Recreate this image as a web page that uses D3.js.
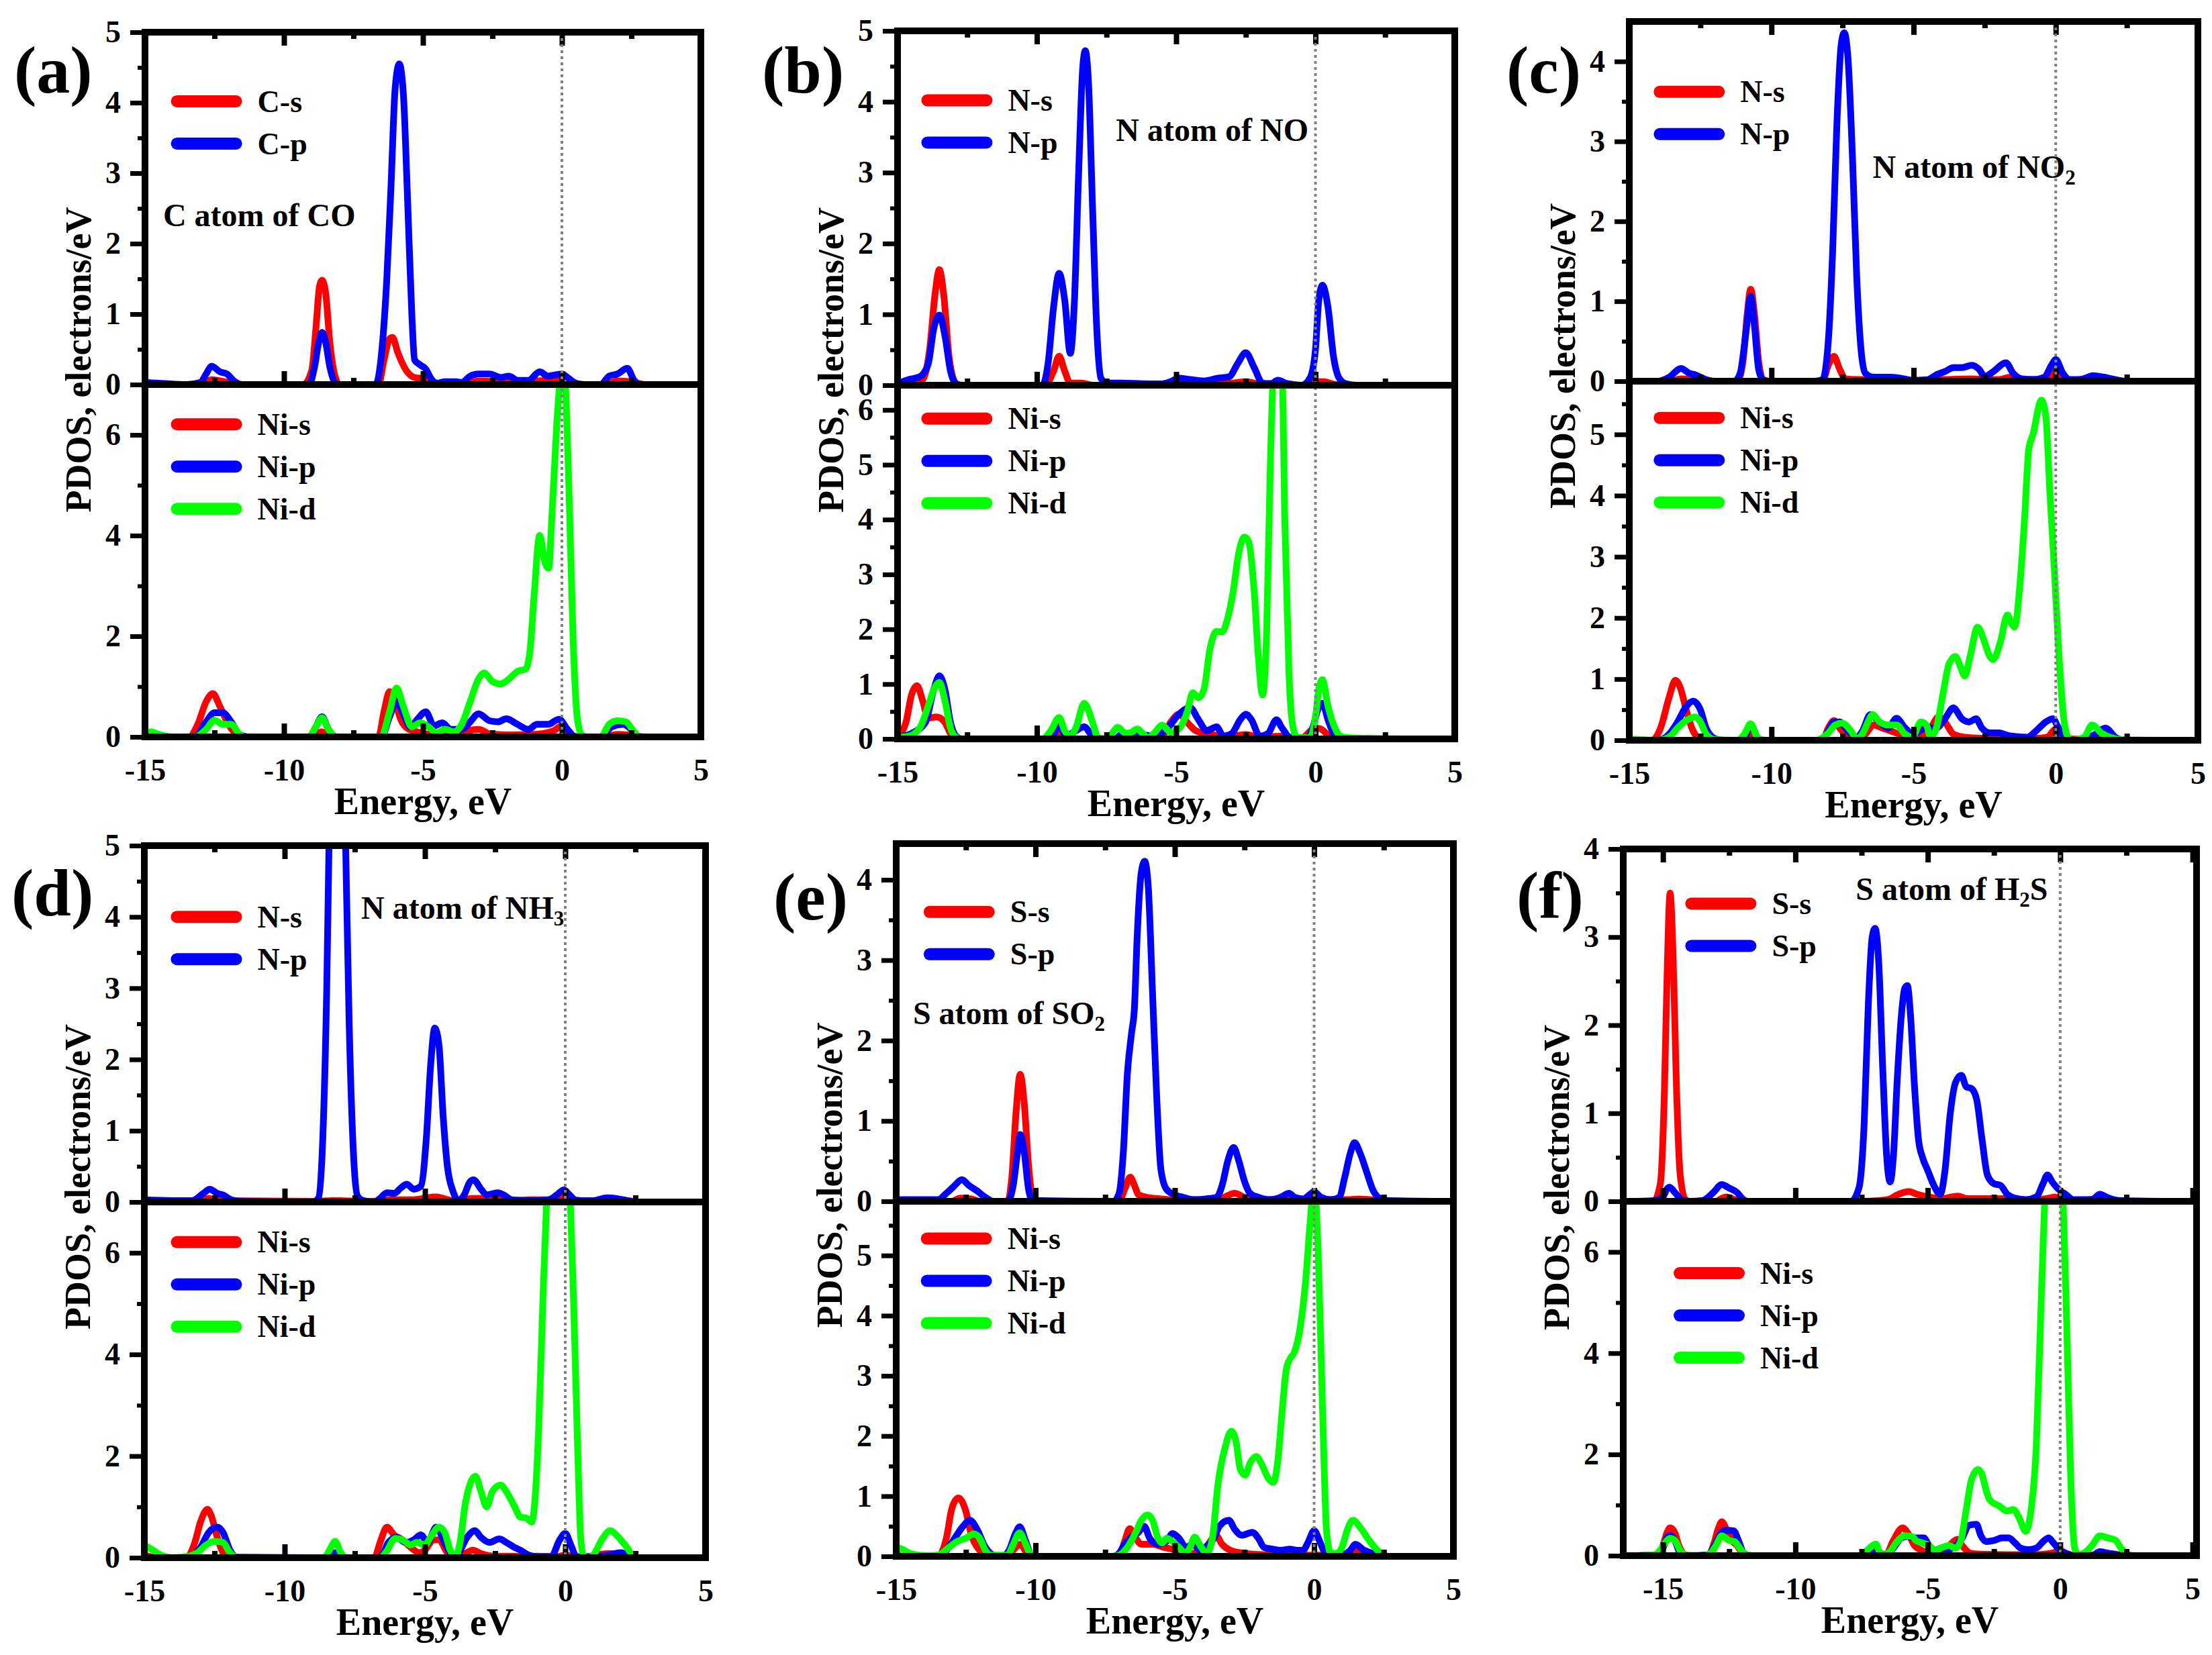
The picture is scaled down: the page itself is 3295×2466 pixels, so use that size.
<!DOCTYPE html>
<meta charset="utf-8">
<body style="margin:0;background:#fff">

<!-- Load d3.js -->
<script src="https://d3js.org/d3.v7.min.js"></script>

<div id="my_dataviz"></div>

<script>
// ---- tick values ----
var xTicks = [-15, -10, -5, 0, 5];
var ticks0to5 = [0, 1, 2, 3, 4, 5];
var ticks0to4 = [0, 1, 2, 3, 4];
var ticks0to6 = [0, 1, 2, 3, 4, 5, 6];
var ticksEven = [0, 2, 4, 6];

// ---- legend names ----
var namesC = ["C-s", "C-p"];
var namesN = ["N-s", "N-p"];
var namesS = ["S-s", "S-p"];
var namesNi = ["Ni-s", "Ni-p", "Ni-d"];

// ---- PDOS curves, [energy eV, electrons/eV] ----
// (a) CO
var aUpS = [[-15,0],[-13,0],[-12.6,0.07],[-12,0.03],[-11.5,0],[-9.3,0],[-9.0,0.2],[-8.85,0.8],[-8.72,1.4],[-8.63,1.48],[-8.5,1.3],[-8.35,0.6],[-8.15,0.1],[-8.0,0],[-6.6,0],[-6.4,0.35],[-6.2,0.65],[-6.1,0.67],[-5.9,0.45],[-5.6,0.2],[-5.3,0.1],[-4.9,0.08],[-4.5,0.02],[-4.2,0],[-3.5,0.02],[-3,0.05],[-2,0.04],[-1,0.05],[-0.2,0.08],[0.1,0.12],[0.4,0.03],[0.8,0],[1.5,0],[2,0.05],[2.5,0.04],[3,0],[4.5,0]];
var aUpP = [[-15,0.03],[-14.5,0.02],[-13.5,0],[-13,0.03],[-12.8,0.15],[-12.6,0.26],[-12.3,0.18],[-12.05,0.15],[-11.8,0.05],[-11.5,0],[-9.1,0],[-8.9,0.25],[-8.75,0.6],[-8.63,0.74],[-8.5,0.6],[-8.35,0.25],[-8.15,0.02],[-8,0],[-6.7,0],[-6.5,0.4],[-6.3,1.5],[-6.15,2.8],[-6.0,4.2],[-5.85,4.55],[-5.7,4.1],[-5.55,2.6],[-5.4,1.0],[-5.3,0.35],[-5.1,0.28],[-4.9,0.22],[-4.7,0.08],[-4.5,0.02],[-4.2,0.04],[-3.8,0.04],[-3.6,0.03],[-3.3,0.12],[-3.0,0.15],[-2.6,0.15],[-2.2,0.1],[-1.9,0.12],[-1.6,0.06],[-1.2,0.06],[-0.8,0.18],[-0.5,0.12],[-0.2,0.14],[0,0.15],[0.2,0.1],[0.5,0.02],[0.8,0],[1.4,0],[1.7,0.12],[2.0,0.15],[2.35,0.23],[2.6,0.06],[2.8,0],[4.5,0]];
var aLoS = [[-15,0.03],[-14.5,0],[-13.4,0],[-13.1,0.25],[-12.8,0.7],[-12.56,0.86],[-12.3,0.6],[-12,0.25],[-11.7,0.05],[-11.5,0],[-9,0],[-8.65,0.1],[-8.3,0],[-6.6,0],[-6.4,0.5],[-6.2,0.9],[-6.0,0.7],[-5.8,0.35],[-5.5,0.15],[-5.2,0.1],[-4.8,0.05],[-4.4,0.03],[-4,0.02],[-3.4,0.12],[-3.0,0.15],[-2.6,0.06],[-2,0.04],[-1,0.05],[-0.3,0.12],[0,0.22],[0.3,0.05],[0.6,0],[1.5,0],[2,0.05],[2.5,0.03],[3,0],[4.5,0]];
var aLoP = [[-15,0],[-13.2,0],[-12.8,0.3],[-12.5,0.48],[-12.2,0.48],[-11.9,0.3],[-11.6,0.05],[-11.3,0],[-9.1,0],[-8.85,0.2],[-8.63,0.4],[-8.4,0.15],[-8.1,0],[-6.5,0],[-6.2,0.4],[-5.95,0.7],[-5.7,0.45],[-5.45,0.2],[-5.2,0.35],[-4.9,0.5],[-4.6,0.22],[-4.3,0.28],[-4.0,0.15],[-3.6,0.15],[-3.3,0.3],[-3.0,0.46],[-2.6,0.32],[-2.3,0.3],[-2.0,0.36],[-1.6,0.25],[-1.2,0.15],[-0.9,0.25],[-0.5,0.25],[-0.1,0.35],[0.2,0.15],[0.5,0],[1.4,0],[1.8,0.2],[2.2,0.25],[2.5,0.15],[2.8,0],[4.5,0]];
var aLoD = [[-15,0.05],[-14.8,0.1],[-14.5,0.05],[-14,0],[-13.2,0],[-12.8,0.15],[-12.5,0.33],[-12.2,0.25],[-11.9,0.25],[-11.6,0.05],[-11.4,0],[-9.1,0],[-8.85,0.2],[-8.63,0.38],[-8.4,0.15],[-8.1,0],[-6.5,0],[-6.2,0.5],[-5.95,0.97],[-5.7,0.6],[-5.4,0.2],[-5.1,0.28],[-4.8,0.2],[-4.5,0.08],[-4.2,0.15],[-3.9,0.1],[-3.6,0.25],[-3.3,0.7],[-3.0,1.15],[-2.8,1.27],[-2.5,1.1],[-2.2,1.05],[-1.9,1.15],[-1.6,1.3],[-1.3,1.35],[-1.15,1.7],[-1.0,2.8],[-0.8,4.0],[-0.6,3.45],[-0.48,3.35],[-0.35,4.5],[-0.15,6.5],[0.05,7.6],[0.25,5.0],[0.4,2.0],[0.55,0.4],[0.7,0.05],[0.9,0],[1.4,0],[1.7,0.25],[2.0,0.32],[2.3,0.3],[2.6,0.1],[2.8,0],[4.5,0]];

// (b) NO
var bUpS = [[-15,0],[-14.4,0.05],[-14.1,0.08],[-13.85,0.5],[-13.65,1.3],[-13.5,1.63],[-13.35,1.3],[-13.15,0.4],[-12.95,0.05],[-12.8,0],[-9.7,0],[-9.4,0.2],[-9.2,0.41],[-9.0,0.2],[-8.8,0.03],[-8.4,0.03],[-8,0],[-5.3,0],[-5,0.05],[-4.5,0.02],[-3,0.03],[-2.5,0.05],[-2,0.02],[-1.2,0.03],[-0.5,0],[0,0.05],[0.3,0.05],[0.6,0.02],[1,0],[3.1,0]];
var bUpP = [[-15,0.02],[-14.6,0.08],[-14.2,0.12],[-13.9,0.3],[-13.7,0.8],[-13.5,0.99],[-13.3,0.7],[-13.1,0.2],[-12.9,0.02],[-12.6,0],[-9.8,0],[-9.6,0.3],[-9.4,1.1],[-9.2,1.58],[-9.0,1.2],[-8.8,0.45],[-8.65,1.2],[-8.5,3.0],[-8.35,4.5],[-8.26,4.72],[-8.15,4.3],[-8.0,2.5],[-7.85,0.8],[-7.7,0.1],[-7.5,0.03],[-7,0.03],[-6,0.02],[-5.5,0.02],[-5.2,0.05],[-4.9,0.1],[-4.5,0.08],[-4.0,0.06],[-3.5,0.1],[-3.1,0.12],[-2.8,0.3],[-2.5,0.46],[-2.2,0.25],[-1.9,0.03],[-1.6,0.02],[-1.35,0.07],[-1.0,0.02],[-0.5,0],[-0.2,0.1],[0,0.5],[0.12,1.2],[0.25,1.41],[0.45,1.1],[0.65,0.4],[0.85,0.1],[1.1,0.02],[1.5,0],[3.1,0]];
var bLoS = [[-15,0.05],[-14.7,0.3],[-14.5,0.8],[-14.3,0.97],[-14.1,0.7],[-13.9,0.38],[-13.6,0.4],[-13.3,0.3],[-13.1,0.1],[-12.9,0],[-9.5,0],[-9.2,0.12],[-8.9,0],[-5.8,0],[-5.5,0.05],[-5.2,0.3],[-4.9,0.45],[-4.6,0.3],[-4.3,0.15],[-3.8,0.08],[-3,0.05],[-2.5,0.08],[-2,0.03],[-1.3,0.05],[-0.5,0.02],[0,0.2],[0.2,0.18],[0.5,0.05],[0.8,0],[3.1,0]];
var bLoP = [[-15,0.03],[-14.5,0.1],[-14.0,0.3],[-13.7,0.9],[-13.5,1.15],[-13.3,0.9],[-13.1,0.3],[-12.9,0.05],[-12.7,0],[-9.5,0],[-9.2,0.25],[-8.95,0.05],[-8.6,0.15],[-8.3,0.22],[-8.0,0.05],[-7.7,0],[-7.2,0],[-6.9,0.1],[-6.5,0.1],[-5.8,0.05],[-5.3,0.2],[-4.9,0.45],[-4.5,0.57],[-4.2,0.35],[-3.9,0.15],[-3.55,0.22],[-3.3,0.05],[-3.0,0.1],[-2.7,0.35],[-2.5,0.45],[-2.3,0.35],[-2.0,0.05],[-1.7,0.1],[-1.4,0.35],[-1.2,0.2],[-0.9,0.02],[-0.3,0],[-0.1,0.2],[0.1,0.55],[0.25,0.65],[0.45,0.35],[0.65,0.1],[0.9,0],[3.1,0]];
var bLoD = [[-15,0.03],[-14.6,0.05],[-14.2,0.2],[-13.9,0.6],[-13.65,0.95],[-13.5,1.03],[-13.3,0.7],[-13.1,0.2],[-12.9,0.03],[-12.7,0],[-9.8,0],[-9.5,0.15],[-9.2,0.39],[-9.0,0.15],[-8.8,0.05],[-8.6,0.2],[-8.3,0.65],[-8.0,0.3],[-7.8,0.02],[-7.5,0],[-7.3,0.1],[-7.1,0.21],[-6.8,0.1],[-6.6,0.12],[-6.4,0.18],[-6.2,0.1],[-6.0,0.02],[-5.8,0.1],[-5.5,0.25],[-5.2,0.12],[-5.0,0.15],[-4.8,0.25],[-4.6,0.5],[-4.4,0.84],[-4.2,0.75],[-4.0,0.9],[-3.8,1.6],[-3.55,1.96],[-3.35,1.95],[-3.15,2.2],[-2.95,2.7],[-2.75,3.4],[-2.55,3.68],[-2.4,3.6],[-2.2,2.7],[-2.05,1.5],[-1.9,0.8],[-1.75,2.0],[-1.62,5.0],[-1.5,6.8],[-1.35,7.2],[-1.2,6.8],[-1.1,4.0],[-0.95,1.2],[-0.8,0.2],[-0.65,0.02],[-0.2,0.02],[0,0.4],[0.12,0.9],[0.25,1.08],[0.45,0.6],[0.7,0.2],[0.9,0.05],[1.2,0.02],[3.1,0]];

// (c) NO2
var cUpS = [[-15,0],[-13.5,0],[-13.2,0.03],[-12.8,0.02],[-12.5,0],[-11.2,0],[-11.0,0.25],[-10.85,0.85],[-10.73,1.15],[-10.6,0.85],[-10.45,0.25],[-10.3,0.02],[-10.1,0],[-8.2,0],[-8.0,0.2],[-7.8,0.31],[-7.6,0.15],[-7.4,0.03],[-7,0.02],[-6.5,0.02],[-6,0],[-4,0.02],[-3,0.03],[-2,0.02],[-1.6,0.05],[-1.2,0.02],[-0.3,0.02],[0,0.12],[0.2,0.05],[0.5,0],[1.3,0.05],[1.8,0.02],[2.2,0],[3.8,0]];
var cUpP = [[-15,0],[-14,0],[-13.6,0.05],[-13.18,0.16],[-12.9,0.1],[-12.68,0.08],[-12.3,0.02],[-12,0],[-11.3,0],[-11.1,0.1],[-10.9,0.6],[-10.73,1.06],[-10.6,0.7],[-10.45,0.15],[-10.3,0.02],[-10.1,0],[-8.5,0],[-8.2,0.02],[-8.0,0.5],[-7.85,1.6],[-7.7,3.2],[-7.55,4.2],[-7.44,4.36],[-7.3,4.0],[-7.15,2.8],[-7.0,1.3],[-6.85,0.4],[-6.7,0.1],[-6.4,0.05],[-5.8,0.05],[-5.5,0.04],[-5.0,0.01],[-4.5,0.02],[-4.2,0.08],[-3.9,0.12],[-3.6,0.17],[-3.3,0.17],[-2.95,0.2],[-2.7,0.15],[-2.5,0.06],[-2.2,0.12],[-1.75,0.23],[-1.5,0.1],[-1.2,0.03],[-0.8,0.02],[-0.4,0.05],[-0.15,0.2],[0,0.27],[0.25,0.1],[0.5,0.02],[0.9,0.02],[1.3,0.07],[1.7,0.05],[2.1,0.02],[2.5,0],[3.8,0]];
var cLoS = [[-15,0],[-14.2,0],[-13.9,0.2],[-13.6,0.7],[-13.38,0.98],[-13.2,0.85],[-13.0,0.5],[-12.8,0.2],[-12.6,0.05],[-12.3,0],[-11,0],[-10.73,0.1],[-10.45,0],[-8.2,0],[-8.0,0.2],[-7.8,0.32],[-7.6,0.2],[-7.3,0.05],[-7,0.02],[-6.7,0.1],[-6.4,0.25],[-6.1,0.2],[-5.8,0.15],[-5.5,0.1],[-5.2,0.05],[-4.8,0.05],[-4.4,0.2],[-4.12,0.38],[-3.9,0.3],[-3.6,0.1],[-3.2,0.05],[-2.5,0.03],[-1.8,0.05],[-1.2,0.05],[-0.7,0.03],[-0.3,0.05],[0,0.18],[0.3,0.05],[0.6,0.02],[1.0,0.02],[1.5,0.08],[2.0,0.03],[2.5,0],[3.8,0]];
var cLoP = [[-15,0],[-14,0],[-13.6,0.1],[-13.3,0.3],[-13.0,0.55],[-12.76,0.64],[-12.5,0.5],[-12.3,0.2],[-12.0,0.03],[-11.7,0],[-11,0],[-10.73,0.25],[-10.45,0.02],[-10.2,0],[-8.3,0],[-8.0,0.15],[-7.8,0.3],[-7.6,0.3],[-7.3,0.15],[-7.0,0.05],[-6.8,0.15],[-6.52,0.42],[-6.2,0.3],[-5.9,0.2],[-5.6,0.36],[-5.3,0.2],[-5.0,0.1],[-4.8,0.15],[-4.6,0.2],[-4.2,0.2],[-3.9,0.35],[-3.6,0.53],[-3.3,0.35],[-3.05,0.3],[-2.8,0.35],[-2.6,0.2],[-2.3,0.12],[-2.0,0.12],[-1.7,0.08],[-1.4,0.06],[-1.0,0.05],[-0.7,0.15],[-0.35,0.3],[-0.1,0.35],[0.1,0.2],[0.35,0.03],[0.6,0],[1.0,0.02],[1.4,0.1],[1.75,0.2],[2.1,0.05],[2.4,0],[3.8,0]];
var cLoD = [[-15,0.02],[-14,0],[-13.6,0.05],[-13.3,0.2],[-13.0,0.32],[-12.68,0.38],[-12.5,0.3],[-12.3,0.1],[-12.0,0.01],[-11.2,0],[-10.95,0.1],[-10.73,0.27],[-10.5,0.05],[-10.3,0],[-8.4,0],[-8.0,0.12],[-7.75,0.25],[-7.52,0.28],[-7.2,0.15],[-7.0,0.02],[-6.8,0.1],[-6.6,0.3],[-6.44,0.42],[-6.2,0.3],[-5.9,0.25],[-5.6,0.25],[-5.3,0.1],[-5.05,0.05],[-4.74,0.3],[-4.55,0.25],[-4.4,0.05],[-4.2,0.2],[-3.95,0.8],[-3.75,1.25],[-3.53,1.37],[-3.35,1.2],[-3.2,1.05],[-3.0,1.4],[-2.75,1.85],[-2.5,1.6],[-2.35,1.4],[-2.2,1.32],[-1.95,1.6],[-1.7,2.05],[-1.55,1.9],[-1.45,1.85],[-1.25,2.6],[-1.1,3.6],[-0.95,4.75],[-0.8,5.0],[-0.5,5.56],[-0.35,5.3],[-0.2,4.0],[-0.05,2.8],[0.1,1.5],[0.25,0.5],[0.4,0.08],[0.55,0],[1.0,0.05],[1.28,0.25],[1.6,0.12],[1.9,0.05],[2.3,0.01],[3.8,0]];

// (d) NH3
var dUpS = [[-15,0.02],[-13,0.02],[-12.7,0.05],[-12.3,0.02],[-9,0.01],[-8.3,0.02],[-7,0.01],[-6,0.03],[-5.5,0.03],[-4.6,0.07],[-4,0.02],[-3.3,0.05],[-2.5,0.05],[-2,0.02],[-1.2,0.03],[-0.2,0.03],[0,0.1],[0.3,0.03],[1,0.01],[1.6,0.04],[2.2,0.02],[2.6,0],[4.1,0]];
var dUpP = [[-15,0.03],[-14,0.02],[-13.3,0.02],[-12.9,0.12],[-12.67,0.18],[-12.4,0.12],[-12.2,0.1],[-11.9,0.03],[-11.6,0.01],[-9,0],[-8.8,0.05],[-8.65,0.8],[-8.5,3.0],[-8.4,5.5],[-8.25,8.5],[-8.12,9.2],[-8.0,8.3],[-7.85,5.5],[-7.7,2.5],[-7.55,0.7],[-7.4,0.08],[-7.2,0.02],[-6.8,0],[-6.6,0.05],[-6.35,0.13],[-6.1,0.12],[-5.85,0.2],[-5.65,0.25],[-5.4,0.18],[-5.15,0.22],[-4.95,0.9],[-4.8,1.9],[-4.65,2.44],[-4.5,2.2],[-4.35,1.2],[-4.2,0.5],[-4.0,0.15],[-3.8,0.02],[-3.6,0.1],[-3.4,0.28],[-3.27,0.31],[-3.0,0.18],[-2.8,0.1],[-2.4,0.13],[-2.2,0.1],[-1.9,0.03],[-1.5,0.02],[-1.0,0.02],[-0.6,0.03],[-0.3,0.1],[-0.05,0.17],[0.15,0.1],[0.4,0.02],[1.0,0.02],[1.5,0.06],[1.8,0.05],[2.2,0.02],[2.6,0],[4.1,0]];
var dLoS = [[-15,0.05],[-14.5,0],[-13.5,0],[-13.2,0.3],[-13.0,0.7],[-12.75,0.95],[-12.6,0.8],[-12.4,0.4],[-12.2,0.1],[-12.0,0],[-6.8,0],[-6.6,0.3],[-6.35,0.6],[-6.1,0.45],[-5.8,0.35],[-5.5,0.2],[-5.2,0.1],[-5.0,0.15],[-4.7,0.35],[-4.5,0.35],[-4.2,0.1],[-3.9,0.02],[-3.5,0.1],[-3.3,0.15],[-3.0,0.08],[-2.5,0.03],[-1.0,0.03],[-0.3,0.02],[0,0.05],[0.5,0],[1.5,0.08],[2.0,0.08],[2.2,0.03],[2.5,0],[4.1,0]];
var dLoP = [[-15,0],[-13.4,0],[-13.0,0.2],[-12.7,0.5],[-12.4,0.6],[-12.2,0.5],[-11.95,0.15],[-11.7,0.01],[-8.5,0],[-8.2,0.1],[-7.9,0],[-6.6,0],[-6.3,0.3],[-6.0,0.4],[-5.7,0.3],[-5.4,0.35],[-5.15,0.45],[-4.9,0.3],[-4.6,0.6],[-4.3,0.3],[-4.0,0.05],[-3.8,0.1],[-3.5,0.4],[-3.22,0.53],[-3.0,0.4],[-2.7,0.3],[-2.35,0.37],[-2.1,0.3],[-1.8,0.2],[-1.6,0.15],[-1.3,0.05],[-1.0,0.02],[-0.5,0.02],[-0.2,0.35],[0,0.48],[0.2,0.25],[0.4,0.02],[1.0,0.02],[1.5,0.05],[2.0,0.1],[2.3,0.02],[2.6,0],[4.1,0]];
var dLoD = [[-15,0.25],[-14.7,0.15],[-14.4,0.05],[-14,0],[-13.5,0.02],[-13.1,0.1],[-12.8,0.25],[-12.5,0.32],[-12.2,0.3],[-11.95,0.1],[-11.7,0],[-8.6,0],[-8.35,0.2],[-8.2,0.32],[-8.0,0.1],[-7.8,0],[-6.6,0],[-6.4,0.1],[-6.05,0.38],[-5.8,0.35],[-5.5,0.25],[-5.3,0.3],[-5.0,0.25],[-4.8,0.4],[-4.5,0.6],[-4.3,0.5],[-4.1,0.15],[-3.9,0.02],[-3.75,0.3],[-3.55,1.1],[-3.2,1.6],[-3.0,1.3],[-2.8,1.0],[-2.6,1.3],[-2.3,1.43],[-2.1,1.3],[-1.8,1.0],[-1.6,0.8],[-1.38,0.78],[-1.2,0.7],[-1.1,1.0],[-0.95,2.5],[-0.8,5.0],[-0.65,7.2],[-0.45,8.6],[-0.2,8.8],[0,8.6],[0.15,7.5],[0.3,5.0],[0.45,2.0],[0.55,0.4],[0.65,0.05],[0.8,0],[1.0,0.05],[1.3,0.35],[1.6,0.53],[1.9,0.4],[2.2,0.2],[2.45,0.02],[2.7,0],[4.1,0]];

// (e) SO2
var eUpS = [[-15,0],[-13,0],[-12.7,0.04],[-12.3,0.03],[-12,0],[-11,0],[-10.85,0.3],[-10.7,1.1],[-10.55,1.58],[-10.4,1.2],[-10.25,0.45],[-10.1,0.05],[-9.9,0],[-7,0],[-6.8,0.15],[-6.6,0.3],[-6.45,0.2],[-6.3,0.08],[-6,0.05],[-5.5,0.03],[-5,0.02],[-3.8,0.02],[-3.3,0.04],[-2.85,0.1],[-2.5,0.05],[-2,0.02],[-1,0.02],[0,0.02],[1.2,0.02],[1.6,0.03],[2,0.02],[2.5,0],[4.3,0]];
var eUpP = [[-15,0.02],[-13.5,0.02],[-13.2,0.1],[-12.95,0.18],[-12.64,0.27],[-12.4,0.2],[-12.1,0.13],[-11.8,0.05],[-11.5,0],[-11,0],[-10.8,0.2],[-10.65,0.6],[-10.55,0.83],[-10.4,0.6],[-10.25,0.15],[-10.1,0.01],[-7.2,0],[-7.0,0.1],[-6.85,0.6],[-6.7,1.6],[-6.55,2.1],[-6.45,2.4],[-6.35,3.3],[-6.2,4.1],[-6.08,4.23],[-5.95,3.9],[-5.8,2.6],[-5.65,1.3],[-5.5,0.4],[-5.3,0.15],[-5.0,0.08],[-4.7,0.05],[-4.3,0.02],[-3.9,0.03],[-3.5,0.05],[-3.3,0.2],[-3.1,0.5],[-2.89,0.67],[-2.7,0.5],[-2.5,0.25],[-2.3,0.1],[-2.0,0.05],[-1.6,0.02],[-1.2,0.05],[-0.9,0.1],[-0.7,0.05],[-0.4,0.03],[-0.1,0.1],[0,0.12],[0.25,0.05],[0.6,0.02],[0.9,0.05],[1.1,0.3],[1.3,0.6],[1.45,0.73],[1.65,0.6],[1.9,0.35],[2.1,0.15],[2.3,0.05],[2.6,0.01],[4.3,0]];
var eLoS = [[-15,0.05],[-14.8,0],[-13.5,0],[-13.2,0.3],[-13.0,0.8],[-12.77,0.97],[-12.5,0.75],[-12.3,0.35],[-12.0,0.1],[-11.8,0.02],[-11.5,0],[-11,0],[-10.8,0.1],[-10.55,0.2],[-10.3,0.05],[-10.1,0],[-7,0],[-6.8,0.25],[-6.62,0.46],[-6.4,0.3],[-6.2,0.2],[-5.8,0.2],[-5.4,0.15],[-5.1,0.12],[-4.8,0.08],[-4.5,0.05],[-4.1,0.05],[-3.8,0.2],[-3.53,0.35],[-3.3,0.2],[-3.0,0.1],[-2.5,0.05],[-2.0,0.03],[-1.0,0.02],[0,0.02],[1.0,0.02],[1.5,0.08],[1.9,0.03],[2.3,0],[4.3,0]];
var eLoP = [[-15,0],[-13.5,0],[-13.2,0.1],[-12.9,0.3],[-12.6,0.5],[-12.35,0.6],[-12.1,0.45],[-11.8,0.15],[-11.5,0.02],[-11.2,0],[-10.95,0.1],[-10.7,0.4],[-10.57,0.49],[-10.35,0.25],[-10.15,0.02],[-9.9,0],[-7.2,0],[-7.0,0.05],[-6.8,0.2],[-6.6,0.3],[-6.3,0.4],[-6.1,0.5],[-5.9,0.3],[-5.6,0.2],[-5.3,0.25],[-5.08,0.38],[-4.85,0.3],[-4.6,0.15],[-4.35,0.2],[-4.1,0.1],[-3.9,0.15],[-3.6,0.3],[-3.4,0.5],[-3.06,0.6],[-2.85,0.45],[-2.6,0.35],[-2.22,0.4],[-2.0,0.3],[-1.8,0.15],[-1.5,0.12],[-1.2,0.1],[-0.87,0.12],[-0.6,0.1],[-0.4,0.1],[-0.2,0.25],[0,0.43],[0.2,0.25],[0.4,0.05],[0.6,0],[1.0,0.02],[1.3,0.1],[1.48,0.2],[1.8,0.1],[2.1,0.05],[2.4,0],[4.3,0]];
var eLoD = [[-15,0.15],[-14.8,0.12],[-14.5,0.05],[-14,0.01],[-13.5,0.02],[-13.1,0.15],[-12.8,0.25],[-12.5,0.3],[-12.22,0.37],[-12.0,0.3],[-11.8,0.1],[-11.6,0.02],[-11,0.02],[-10.8,0.2],[-10.57,0.39],[-10.35,0.2],[-10.15,0.02],[-9.9,0],[-7.3,0],[-7.0,0.02],[-6.7,0.15],[-6.4,0.4],[-6.2,0.6],[-5.98,0.69],[-5.8,0.6],[-5.6,0.3],[-5.45,0.22],[-5.3,0.3],[-5.1,0.25],[-4.85,0.15],[-4.6,0.05],[-4.45,0.15],[-4.29,0.32],[-4.05,0.15],[-3.85,0.05],[-3.65,0.3],[-3.45,1.2],[-3.2,1.8],[-2.97,2.08],[-2.8,1.9],[-2.65,1.45],[-2.47,1.35],[-2.3,1.55],[-2.08,1.66],[-1.85,1.5],[-1.65,1.3],[-1.46,1.23],[-1.3,1.6],[-1.15,2.4],[-1.0,3.1],[-0.87,3.28],[-0.7,3.4],[-0.5,3.8],[-0.3,4.6],[-0.15,5.5],[0,6.2],[0.15,5.0],[0.3,2.5],[0.45,0.4],[0.6,0.05],[0.8,0.05],[1.0,0.15],[1.2,0.45],[1.39,0.6],[1.7,0.45],[2.0,0.25],[2.4,0.05],[2.7,0],[4.3,0]];

// (f) H2S
var fUpS = [[-16,0],[-15.35,0],[-15.1,0.2],[-14.95,1.2],[-14.85,2.5],[-14.73,3.5],[-14.6,2.6],[-14.5,1.4],[-14.35,0.3],[-14.15,0.02],[-14,0],[-13,0],[-12.8,0.03],[-12.6,0.05],[-12.3,0.02],[-12,0],[-7.5,0],[-6.5,0.02],[-6.1,0.08],[-5.71,0.11],[-5.4,0.08],[-5.0,0.05],[-4.5,0.03],[-3.87,0.06],[-3.5,0.03],[-3.0,0.03],[-2.0,0.03],[-1.5,0.01],[-0.5,0.03],[-0.2,0.05],[0.1,0.02],[0.5,0],[1.5,0.03],[1.9,0.02],[2.2,0],[4.2,0]];
var fUpP = [[-16,0],[-15.3,0.01],[-15.0,0.05],[-14.85,0.14],[-14.75,0.16],[-14.55,0.1],[-14.3,0.02],[-14,0],[-13.5,0.01],[-13.1,0.1],[-12.78,0.19],[-12.5,0.15],[-12.2,0.1],[-12.0,0.03],[-11.8,0],[-7.9,0],[-7.6,0.15],[-7.4,0.9],[-7.25,2.2],[-7.1,3.0],[-6.99,3.1],[-6.85,2.7],[-6.7,1.5],[-6.55,0.5],[-6.42,0.22],[-6.3,0.5],[-6.15,1.4],[-6.0,2.1],[-5.87,2.42],[-5.77,2.45],[-5.65,2.1],[-5.5,1.3],[-5.35,0.7],[-5.2,0.5],[-5.0,0.35],[-4.8,0.2],[-4.53,0.08],[-4.35,0.35],[-4.15,1.0],[-3.95,1.35],[-3.73,1.43],[-3.55,1.3],[-3.35,1.28],[-3.15,1.15],[-2.95,0.7],[-2.75,0.3],[-2.5,0.2],[-2.25,0.18],[-2.0,0.08],[-1.75,0.04],[-1.3,0.02],[-0.9,0.05],[-0.65,0.2],[-0.48,0.3],[-0.3,0.22],[0,0.12],[0.2,0.08],[0.5,0.02],[1.2,0.02],[1.5,0.08],[1.8,0.04],[2.2,0.01],[4.2,0]];
var fLoS = [[-16,0],[-15.2,0.02],[-15.0,0.2],[-14.85,0.45],[-14.73,0.55],[-14.55,0.45],[-14.4,0.2],[-14.2,0.03],[-14,0],[-13.3,0],[-13.1,0.2],[-12.9,0.55],[-12.78,0.67],[-12.55,0.45],[-12.4,0.3],[-12.2,0.2],[-12.0,0.05],[-11.8,0],[-6.6,0],[-6.3,0.3],[-5.95,0.55],[-5.7,0.4],[-5.5,0.2],[-5.2,0.1],[-4.9,0.05],[-4.6,0.05],[-4.3,0.15],[-3.87,0.32],[-3.7,0.2],[-3.4,0.05],[-3.0,0.03],[-2.0,0.02],[-1.0,0.02],[-0.3,0.05],[0,0.1],[0.2,0.05],[0.5,0],[1.5,0.02],[2.0,0],[4.2,0]];
var fLoP = [[-16,0],[-15.2,0.02],[-15.0,0.15],[-14.85,0.35],[-14.73,0.4],[-14.55,0.3],[-14.35,0.05],[-14,0],[-13.3,0.02],[-13.0,0.25],[-12.8,0.45],[-12.6,0.5],[-12.33,0.49],[-12.15,0.3],[-11.95,0.05],[-11.7,0],[-7.2,0],[-7.0,0.1],[-6.8,0.05],[-6.6,0.02],[-6.3,0.15],[-6.0,0.35],[-5.75,0.38],[-5.5,0.35],[-5.15,0.35],[-4.95,0.2],[-4.7,0.1],[-4.5,0.15],[-4.2,0.12],[-3.95,0.2],[-3.7,0.35],[-3.45,0.6],[-3.16,0.62],[-3.0,0.4],[-2.8,0.28],[-2.5,0.3],[-2.2,0.35],[-1.95,0.35],[-1.7,0.25],[-1.5,0.15],[-1.2,0.12],[-0.9,0.15],[-0.6,0.3],[-0.44,0.35],[-0.25,0.25],[0,0.1],[0.3,0.03],[0.6,0],[1.2,0],[1.5,0.08],[1.8,0.05],[2.2,0.02],[2.5,0],[4.2,0]];
var fLoD = [[-16,0],[-15.3,0.02],[-15.05,0.15],[-14.85,0.3],[-14.73,0.34],[-14.55,0.3],[-14.35,0.1],[-14.1,0.01],[-13.5,0],[-13.2,0.05],[-13.0,0.2],[-12.78,0.39],[-12.5,0.3],[-12.3,0.28],[-12.1,0.15],[-11.9,0.03],[-11.6,0],[-7.5,0],[-7.3,0.1],[-6.96,0.23],[-6.8,0.05],[-6.6,0.02],[-6.4,0.1],[-6.2,0.25],[-5.86,0.39],[-5.6,0.38],[-5.45,0.3],[-5.2,0.25],[-4.95,0.2],[-4.7,0.1],[-4.5,0.15],[-4.2,0.2],[-3.95,0.15],[-3.75,0.3],[-3.55,0.9],[-3.35,1.5],[-3.1,1.7],[-2.95,1.6],[-2.8,1.3],[-2.66,1.1],[-2.3,0.98],[-2.0,0.88],[-1.77,0.91],[-1.55,0.75],[-1.3,0.48],[-1.1,0.9],[-0.9,2.2],[-0.75,4.5],[-0.6,6.8],[-0.45,8.3],[-0.25,8.8],[-0.05,8.5],[0.1,7.2],[0.25,4.5],[0.4,1.5],[0.55,0.15],[0.7,0.02],[0.9,0.05],[1.2,0.2],[1.5,0.39],[1.8,0.35],[2.1,0.3],[2.3,0.15],[2.6,0.02],[2.9,0],[4.2,0]];

var colors = ["#ff0000", "#0000ff", "#00ff00"];
var font = "'Liberation Serif','Times New Roman',serif";

// panel layout (pixels) and settings
var panels = [
  {label: "(a)", lx: 21, ly: 138, box: {L: 216, R: 1044, T: 48, S: 573, B: 1098}, xDom: [-15, 5],
   up: {dom: [0, 5], ticks: ticks0to5, minor: 0.5, names: namesC, data: [aUpS, aUpP], leg: [-13.85, 4.02]},
   lo: {dom: [0, 7], ticks: ticksEven, minor: 1, names: namesNi, data: [aLoS, aLoP, aLoD], leg: [-13.85, 6.21]},
   note: {E: -14.35, v: 2.25, main: "C atom of CO", sub: "", tail: ""}},
  {label: "(b)", lx: 1135, ly: 138, box: {L: 1337, R: 2167, T: 46, S: 574, B: 1101}, xDom: [-15, 5],
   up: {dom: [0, 5], ticks: ticks0to5, minor: 0.5, names: namesN, data: [bUpS, bUpP], leg: [-13.93, 4.02]},
   lo: {dom: [0, 6.45], ticks: ticks0to6, minor: 0.5, names: namesNi, data: [bLoS, bLoP, bLoD], leg: [-13.93, 5.84]},
   note: {E: -7.16, v: 3.45, main: "N atom of NO", sub: "", tail: ""}},
  {label: "(c)", lx: 2244, ly: 138, box: {L: 2427, R: 3274, T: 32, S: 568, B: 1103}, xDom: [-15, 5],
   up: {dom: [0, 4.5], ticks: ticks0to4, minor: 0.5, names: namesN, data: [cUpS, cUpP], leg: [-13.93, 3.62]},
   lo: {dom: [0, 5.87], ticks: ticks0to5, minor: 0.5, names: namesNi, data: [cLoS, cLoP, cLoD], leg: [-13.93, 5.27]},
   note: {E: -6.44, v: 2.54, main: "N atom of NO", sub: "2", tail: ""}},
  {label: "(d)", lx: 17, ly: 1364, box: {L: 215, R: 1051, T: 1260, S: 1791, B: 2321}, xDom: [-15, 5],
   up: {dom: [0, 5], ticks: ticks0to5, minor: 0.5, names: namesN, data: [dUpS, dUpP], leg: [-13.84, 4.0]},
   lo: {dom: [0, 7], ticks: ticksEven, minor: 1, names: namesNi, data: [dLoS, dLoP, dLoD], leg: [-13.84, 6.21]},
   note: {E: -7.27, v: 3.97, main: "N atom of NH", sub: "3", tail: ""}},
  {label: "(e)", lx: 1152, ly: 1370, box: {L: 1335, R: 2165, T: 1257, S: 1790, B: 2319}, xDom: [-15, 5],
   up: {dom: [0, 4.45], ticks: ticks0to4, minor: 0.5, names: namesS, data: [eUpS, eUpP], leg: [-13.8, 3.6]},
   lo: {dom: [0, 5.9], ticks: ticks0to5, minor: 0.5, names: namesNi, data: [eLoS, eLoP, eLoD], leg: [-13.9, 5.28]},
   note: {E: -14.4, v: 2.2, main: "S atom of SO", sub: "2", tail: ""}},
  {label: "(f)", lx: 2259, ly: 1368, box: {L: 2418, R: 3272, T: 1265, S: 1790, B: 2318}, xDom: [-16.5, 5.15],
   up: {dom: [0, 4], ticks: ticks0to4, minor: 0.5, names: namesS, data: [fUpS, fUpP], leg: [-13.93, 3.38]},
   lo: {dom: [0, 7], ticks: ticksEven, minor: 1, names: namesNi, data: [fLoS, fLoP, fLoD], leg: [-14.37, 5.58]},
   note: {E: -7.72, v: 3.42, main: "S atom of H", sub: "2", tail: "S"}}
];

var svg = d3.select("#my_dataviz")
  .append("svg")
    .attr("width", 3295)
    .attr("height", 2466)
    .style("font-family", font)
    .style("font-weight", "bold");

var defs = svg.append("defs");

// strip d3's axis path and style its ticks; drop labels when not wanted
function styleAxis(sel, tickWidth, keepText) {
  sel.select(".domain").remove();
  sel.selectAll("line").attr("stroke-width", tickWidth);
  if (keepText) {
    sel.attr("font-family", font).attr("font-size", 46).attr("font-weight", "bold");
    sel.selectAll("text").attr("fill", "#000");
  } else {
    sel.selectAll("text").remove();
  }
}

panels.forEach(function(p, i) {
  var b = p.box;
  var g = svg.append("g");
  var x = d3.scaleLinear().domain(p.xDom).range([b.L, b.R]);
  var xMinor = xTicks.slice(0, -1).map(function(v) { return v + 2.5; });

  var parts = [
    {cfg: p.up, top: b.T, bot: b.S, isLow: false},
    {cfg: p.lo, top: b.S, bot: b.B, isLow: true}
  ];

  parts.forEach(function(s, j) {
    var y = d3.scaleLinear().domain(s.cfg.dom).range([s.bot, s.top]);
    var clipId = "clip" + i + "_" + j;
    defs.append("clipPath").attr("id", clipId)
      .append("rect")
        .attr("x", b.L).attr("y", s.top)
        .attr("width", b.R - b.L).attr("height", s.bot - s.top);

    var line = d3.line()
      .x(function(d) { return x(d[0]); })
      .y(function(d) { return y(d[1]); })
      .curve(d3.curveMonotoneX);

    // curves: s, p, d
    s.cfg.data.forEach(function(d, k) {
      g.append("path")
        .datum(d)
        .attr("d", line)
        .attr("fill", "none")
        .attr("stroke", colors[k])
        .attr("stroke-width", 10)
        .attr("stroke-linejoin", "round")
        .attr("clip-path", "url(#" + clipId + ")");
    });

    // legend
    var lx0 = x(s.cfg.leg[0]), ly0 = y(s.cfg.leg[1]);
    s.cfg.names.forEach(function(n, k) {
      var yy = ly0 + k * 63;
      g.append("line")
        .attr("x1", lx0).attr("x2", lx0 + 88)
        .attr("y1", yy).attr("y2", yy)
        .attr("stroke", colors[k])
        .attr("stroke-width", 18)
        .attr("stroke-linecap", "round");
      g.append("text")
        .attr("x", lx0 + 120).attr("y", yy)
        .attr("dy", "0.34em")
        .style("font-size", "46px")
        .text(n);
    });

    // y axis: major ticks outward with labels, then minor ticks
    var ya = g.append("g")
      .attr("transform", "translate(" + b.L + ",0)")
      .call(d3.axisLeft(y).tickValues(s.cfg.ticks).tickSize(22).tickPadding(14)
        .tickFormat(function(d) { return String(d); }));
    styleAxis(ya, 7, true);

    var ymin = d3.range(s.cfg.minor, s.cfg.dom[1], s.cfg.minor)
      .filter(function(v) { return s.cfg.ticks.indexOf(v) < 0; });
    var ym = g.append("g")
      .attr("transform", "translate(" + b.L + ",0)")
      .call(d3.axisLeft(y).tickValues(ymin).tickSize(11));
    styleAxis(ym, 6, false);

    // x ticks pointing inward; labels only under the lower plot
    var xb = g.append("g")
      .attr("transform", "translate(0," + s.bot + ")")
      .call(d3.axisBottom(x).tickValues(xTicks).tickSizeInner(-20).tickSizeOuter(0)
        .tickPadding(32).tickFormat(function(d) { return String(d); }));
    styleAxis(xb, 8, s.isLow);
    var xbm = g.append("g")
      .attr("transform", "translate(0," + s.bot + ")")
      .call(d3.axisBottom(x).tickValues(xMinor).tickSizeInner(-10).tickSizeOuter(0));
    styleAxis(xbm, 8, false);

    if (!s.isLow) {
      var xt = g.append("g")
        .attr("transform", "translate(0," + b.T + ")")
        .call(d3.axisTop(x).tickValues(xTicks).tickSizeInner(-20).tickSizeOuter(0));
      styleAxis(xt, 8, false);
      var xtm = g.append("g")
        .attr("transform", "translate(0," + b.T + ")")
        .call(d3.axisTop(x).tickValues(xMinor).tickSizeInner(-10).tickSizeOuter(0));
      styleAxis(xtm, 8, false);

      // molecule annotation
      var t = g.append("text")
        .attr("x", x(p.note.E)).attr("y", y(p.note.v))
        .style("font-size", "48px")
        .text(p.note.main);
      if (p.note.sub) {
        t.append("tspan").attr("dy", 10).style("font-size", "31px").text(p.note.sub);
      }
      if (p.note.tail) {
        t.append("tspan").attr("dy", -10).text(p.note.tail);
      }
    }
  });

  // Fermi level, dotted
  g.append("line")
    .attr("x1", x(0)).attr("x2", x(0))
    .attr("y1", b.T).attr("y2", b.B)
    .attr("stroke", "#808080")
    .attr("stroke-width", 4)
    .attr("stroke-dasharray", "4,5");

  // frames
  [[b.T, b.S], [b.S, b.B]].forEach(function(r) {
    g.append("rect")
      .attr("x", b.L).attr("y", r[0])
      .attr("width", b.R - b.L).attr("height", r[1] - r[0])
      .attr("fill", "none")
      .attr("stroke", "#000")
      .attr("stroke-width", 10);
  });

  // axis titles
  g.append("text")
    .attr("x", (b.L + b.R) / 2).attr("y", b.B + 115)
    .attr("text-anchor", "middle")
    .style("font-size", "56px")
    .text("Energy, eV");
  g.append("text")
    .attr("transform", "translate(" + (b.L - 100) + "," + ((b.T + b.B) / 2 - 37) + ")rotate(-90)")
    .attr("text-anchor", "middle")
    .attr("dy", "0.35em")
    .style("font-size", "54px")
    .text("PDOS, electrons/eV");

  // panel letter
  g.append("text")
    .attr("x", p.lx).attr("y", p.ly)
    .style("font-size", "100px")
    .text(p.label);
});
</script>
</body>
